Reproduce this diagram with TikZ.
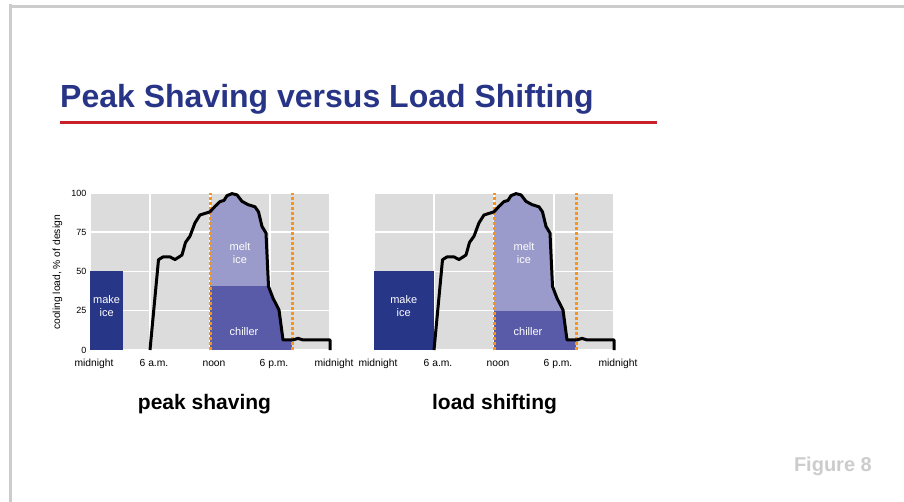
\documentclass[tikz,border=0pt]{standalone}
\usepackage{fontspec}
\setmainfont{Liberation Sans}
\definecolor{otsikko}{HTML}{283587}
\definecolor{viiva}{HTML}{C8202A}
\definecolor{reuna}{HTML}{CCCCCC}
\definecolor{tausta}{HTML}{DCDCDC}
\definecolor{teko}{HTML}{283688}
\definecolor{sulatus}{HTML}{9A9ACB}
\definecolor{jaahdytin}{HTML}{5A5BA8}
\definecolor{oranssi}{HTML}{F7941D}

\begin{document}
\begin{tikzpicture}[x=1pt,y=-1pt,
  luku/.style={font=\fontsize{10.3}{12}\selectfont,anchor=base,inner sep=0pt},
  asteikko/.style={font=\fontsize{9}{10}\selectfont,anchor=east,inner sep=0pt},
  selite/.style={text=white,align=center,font=\fontsize{11}{13}\selectfont,inner sep=0pt},
  nimi/.style={font=\bfseries\fontsize{21}{25}\selectfont,anchor=base,inner sep=0pt}]
\newcommand\kayra{(6,0) -- (6.85,57.5) -- (7.3,59.3) -- (8,59.3) -- (8.5,57.6) -- (9.2,60.5)
  -- (9.55,68.5) -- (10,72.5) -- (10.5,81) -- (11,86) -- (12,88) -- (12.5,91.5) -- (13,94.5)
  -- (13.4,95.3) -- (13.7,98.3) -- (14.2,99.6) -- (14.7,98.8) -- (15.2,94.7) -- (15.8,92.6)
  -- (16.5,91.2) -- (16.85,88) -- (17.2,78.7) -- (17.6,74.5) -- (17.85,40.5) -- (18.3,33)
  -- (18.9,25.5) -- (19.3,6.4) -- (20.3,6.4) -- (20.8,7.4) -- (21.3,6.4) -- (24,6.4) -- (24,0)}
\newcommand\kaavio[3]{
\fill[tausta] (0,0) rectangle (24,100);
\draw[white,line width=1.5pt,xstep=6,ystep=25] (0,0) grid (24,100);
\fill[teko] (0,0) rectangle (#2,50);
\begin{scope}
\clip (12,0) rectangle (20.2,100);
\clip \kayra -- cycle;
\fill[sulatus] (12,0) rectangle (20.2,100);
\fill[jaahdytin] (12,0) rectangle (20.2,#3);
\end{scope}
\draw[oranssi,line width=3pt,dash pattern=on 3pt off 2pt] (12,0) -- (12,100) (20.2,0) -- (20.2,100);
\draw[line width=3pt,line join=round] \kayra;
\node[selite] (#1-teko) at (#2/2,28) {make\\ice};
\node[selite] (#1-sulatus) at (15,62) {melt\\ice};
\node[selite] (#1-jaahdytin) at (15.4,11.7) {chiller};
\foreach \t/\n [count=\i] in {0/midnight,6/6 a.m.,12/noon,18/6 p.m.,24/midnight}
  \node[luku] (#1-x\i) at (\t+0.4,-10.2) {\n};
}
\useasboundingbox (0,0) rectangle (904,502);
\fill[reuna] (9,4) rectangle (12,502);
\fill[reuna] (9,5) rectangle (904,8);
\node[anchor=base west,text=otsikko,font=\bfseries\fontsize{32}{38}\selectfont,inner sep=0pt] (otsikko) at (60,107.5) {Peak Shaving versus Load Shifting};
\fill[viiva] (60,120.7) rectangle (657,124.3);
\node[anchor=base east,text=reuna,font=\bfseries\fontsize{20}{24}\selectfont,inner sep=0pt] (kuva) at (872,471.5) {Figure 8};
\begin{scope}[shift={(90,350)},x=10pt,y=1.57pt]
\kaavio{ps}{3.33}{40.5}
\foreach \v in {0,25,50,75,100}
  \node[asteikko] (ps-y\v) at (-0.35,\v) {\v};
\node[rotate=90,font=\fontsize{10.3}{12}\selectfont,inner sep=0pt] (ps-akseli) at (-3.25,49.4) {cooling load, \% of design};
\node[nimi] (ps-nimi) at (11.45,-38) {peak shaving};
\end{scope}
\begin{scope}[shift={(374,350)},x=10pt,y=1.57pt]
\kaavio{ls}{5.95}{25}
\node[nimi] (ls-nimi) at (12.05,-38) {load shifting};
\end{scope}
\end{tikzpicture}
\end{document}
